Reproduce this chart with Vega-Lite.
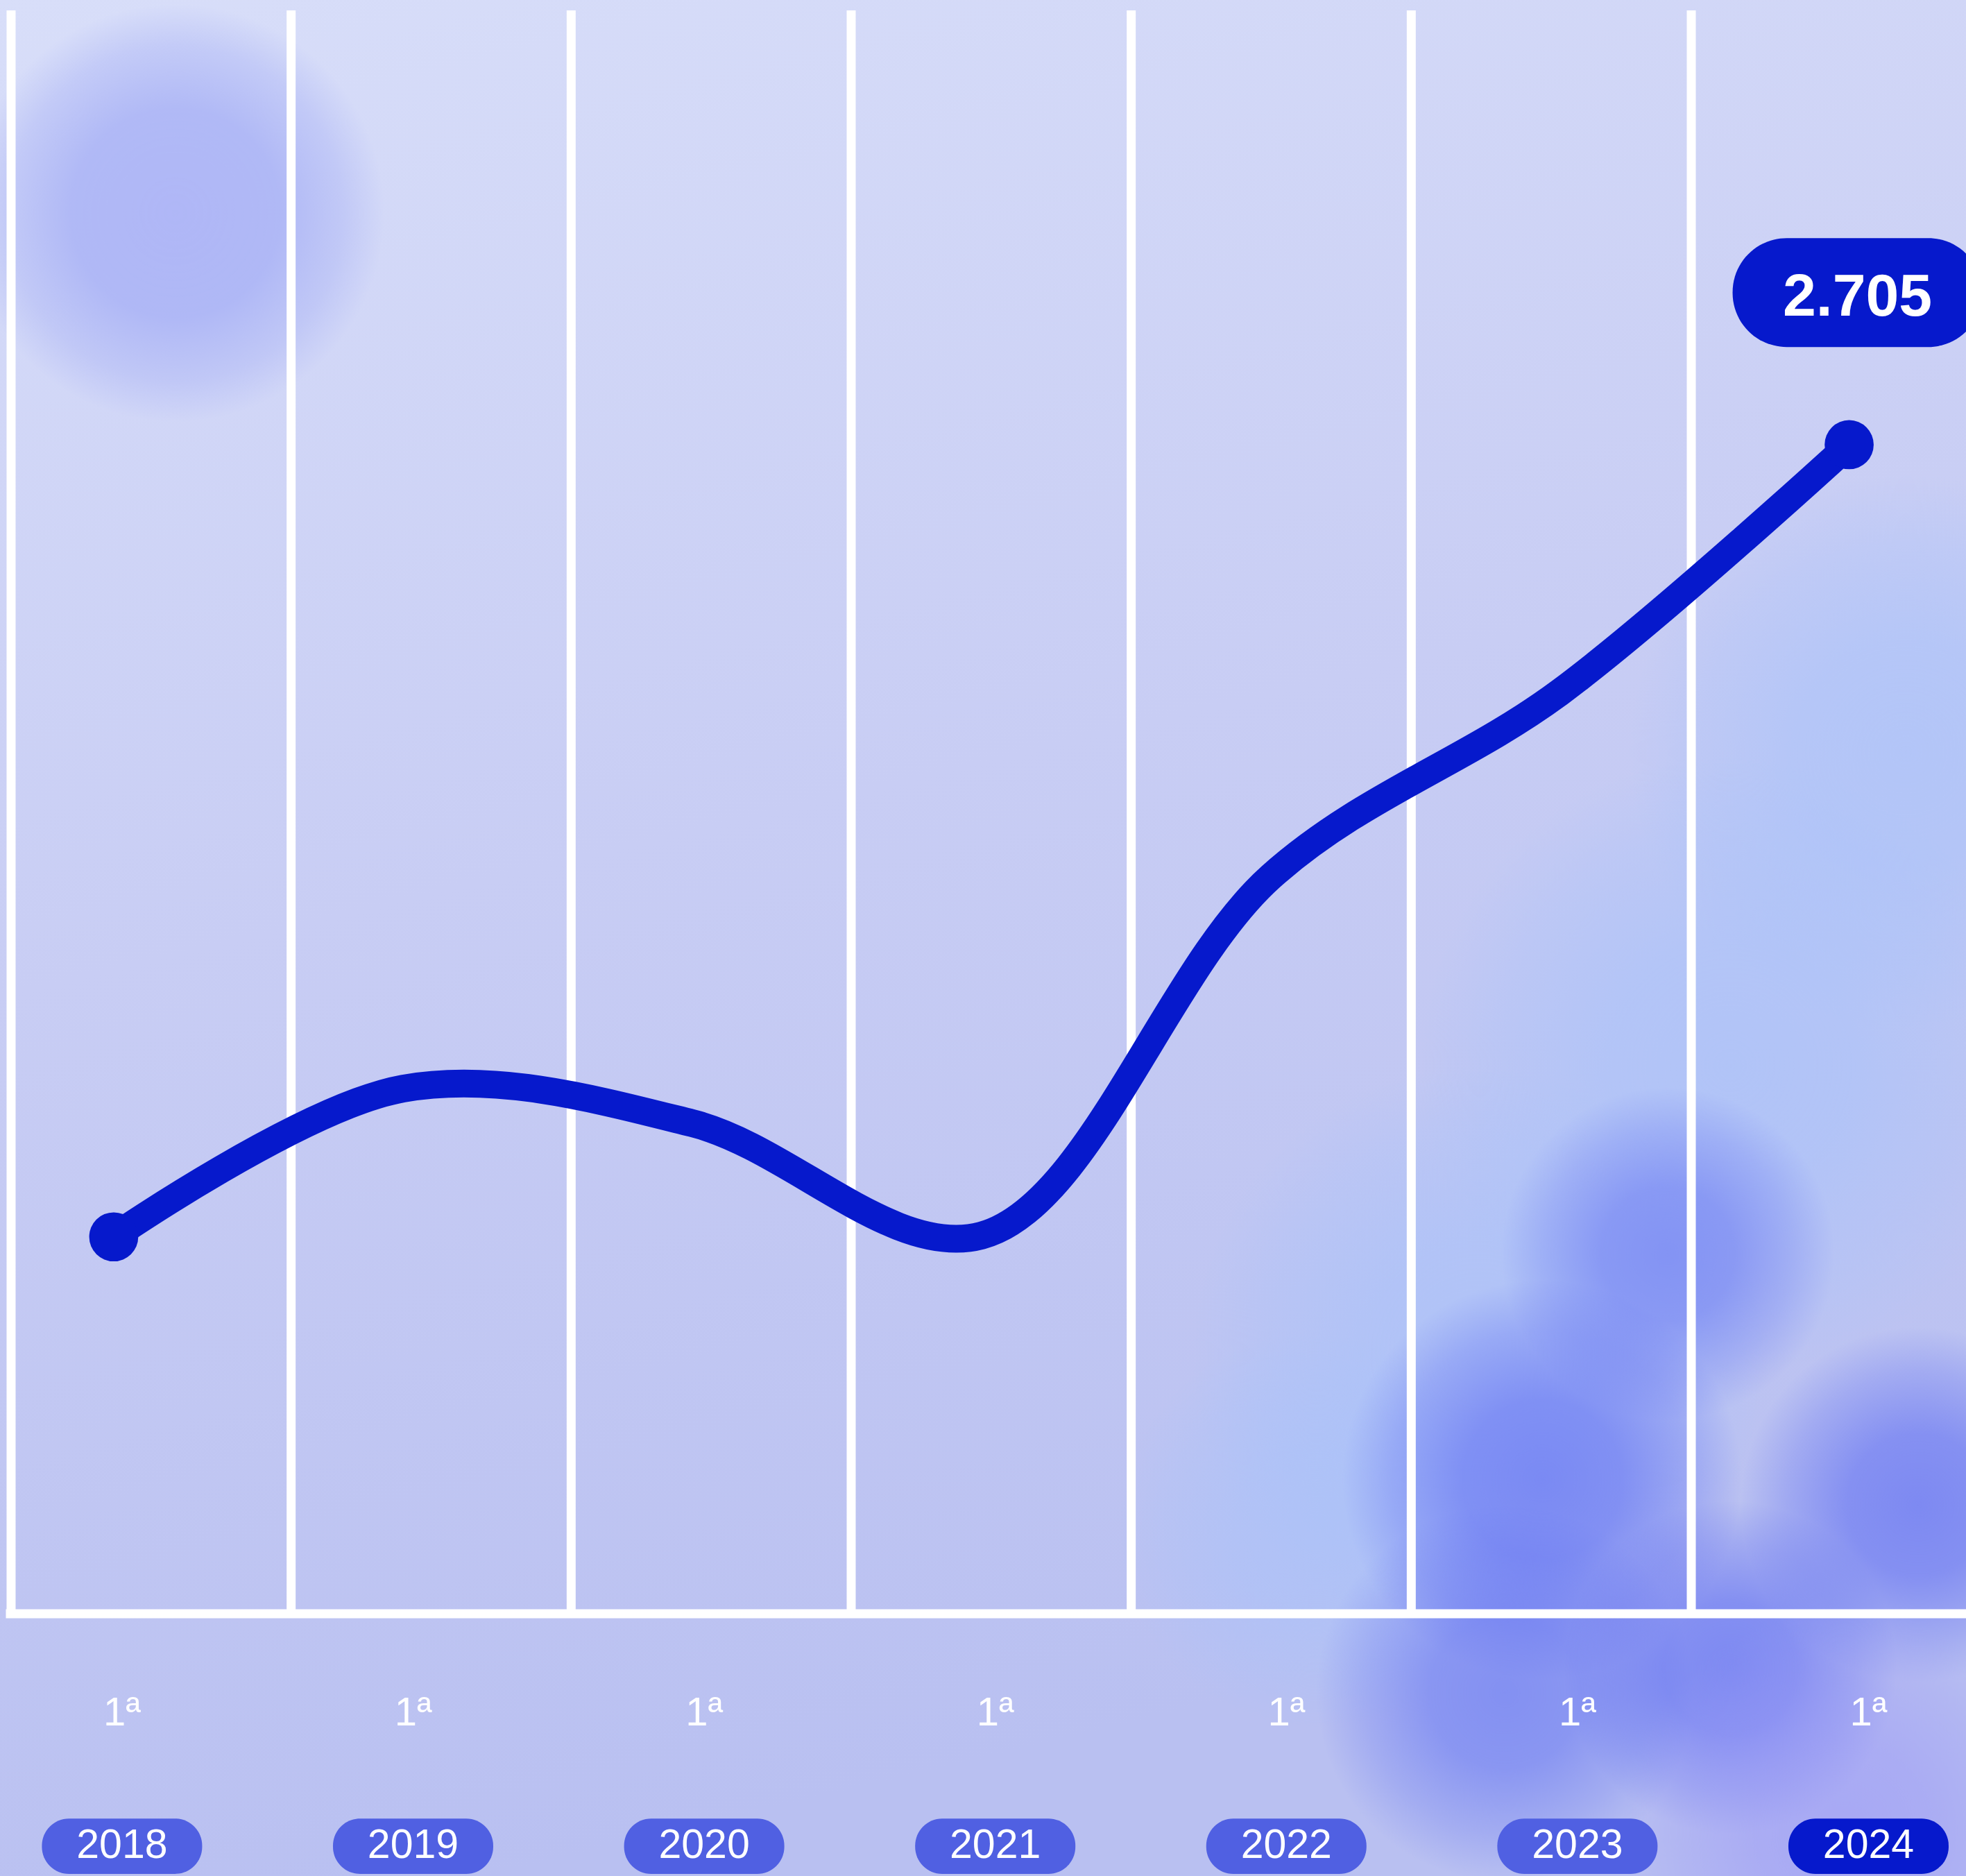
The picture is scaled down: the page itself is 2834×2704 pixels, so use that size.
{
  "$schema": "https://vega.github.io/schema/vega-lite/v6.json",
  "width": 2834,
  "height": 2704,
  "autosize": {"type": "fit", "contains": "padding"},
  "padding": 0,
  "background": "#c9cef5",
  "config": {
    "view": {
      "stroke": null,
      "fill": {"gradient": "linear", "x1": 0, "y1": 0, "x2": 0.25, "y2": 1,
        "stops": [{"offset": 0, "color": "#d8def9"}, {"offset": 0.5, "color": "#c8cdf4"}, {"offset": 1, "color": "#b9c0f1"}]}
    },
    "locale": {"number": {"decimal": ",", "thousands": ".", "grouping": [3], "currency": ["R$", ""]}}
  },
  "datasets": {
    "series": [
      {"year": 2018, "value": 872},
      {"year": 2019, "value": 1215},
      {"year": 2020, "value": 1135},
      {"year": 2021, "value": 875},
      {"year": 2022, "value": 1705},
      {"year": 2023, "value": 2132},
      {"year": 2024, "value": 2705}
    ],
    "grid": [{"g": 0}, {"g": 1}, {"g": 2}, {"g": 3}, {"g": 4}, {"g": 5}, {"g": 6}],
    "base": [{"g": 0}]
  },
  "layer": [
    {
      "data": {"name": "base"},
      "layer": [
        {
          "mark": {"type": "point", "shape": "circle", "filled": true, "clip": true, "strokeWidth": 0, "size": 363168,
            "fill": {"gradient": "radial", "x1": 0.5, "y1": 0.5, "r1": 0, "x2": 0.5, "y2": 0.5, "r2": 0.5,
              "stops": [{"offset": 0, "color": "rgba(160,168,246,1)"}, {"offset": 0.5, "color": "rgba(158,168,245,0.95)"}, {"offset": 0.8, "color": "rgba(160,170,245,0.5)"}, {"offset": 1, "color": "rgba(160,170,245,0)"}]}},
          "encoding": {
            "x": {"datum": 0.587, "type": "quantitative", "scale": {"domain": [-0.0396, 6.981], "nice": false, "zero": false}, "axis": null},
            "y": {"datum": 3241, "type": "quantitative", "scale": {"domain": [-607, 3734], "nice": false, "zero": false}, "axis": null}
          }
        },
        {
          "mark": {"type": "point", "shape": "circle", "filled": true, "clip": true, "strokeWidth": 0, "size": 641840,
            "fill": {"gradient": "radial", "x1": 0.5, "y1": 0.5, "r1": 0, "x2": 0.5, "y2": 0.5, "r2": 0.5,
              "stops": [{"offset": 0, "color": "rgba(168,194,250,0.9)"}, {"offset": 0.4, "color": "rgba(168,194,250,0.8)"}, {"offset": 0.75, "color": "rgba(168,194,250,0.4)"}, {"offset": 1, "color": "rgba(168,194,250,0)"}]}},
          "encoding": {"x": {"datum": 6.766, "type": "quantitative"}, "y": {"datum": 1994, "type": "quantitative"}}
        },
        {
          "mark": {"type": "point", "shape": "circle", "filled": true, "clip": true, "strokeWidth": 0, "size": 804380,
            "fill": {"gradient": "radial", "x1": 0.5, "y1": 0.5, "r1": 0, "x2": 0.5, "y2": 0.5, "r2": 0.5,
              "stops": [{"offset": 0, "color": "rgba(168,194,250,0.9)"}, {"offset": 0.4, "color": "rgba(168,194,250,0.8)"}, {"offset": 0.75, "color": "rgba(168,194,250,0.4)"}, {"offset": 1, "color": "rgba(168,194,250,0)"}]}},
          "encoding": {"x": {"datum": 6.139, "type": "quantitative"}, "y": {"datum": 1268, "type": "quantitative"}}
        },
        {
          "mark": {"type": "point", "shape": "circle", "filled": true, "clip": true, "strokeWidth": 0, "size": 693978,
            "fill": {"gradient": "radial", "x1": 0.5, "y1": 0.5, "r1": 0, "x2": 0.5, "y2": 0.5, "r2": 0.5,
              "stops": [{"offset": 0, "color": "rgba(168,194,250,0.9)"}, {"offset": 0.4, "color": "rgba(168,194,250,0.8)"}, {"offset": 0.75, "color": "rgba(168,194,250,0.4)"}, {"offset": 1, "color": "rgba(168,194,250,0)"}]}},
          "encoding": {"x": {"datum": 5.244, "type": "quantitative"}, "y": {"datum": 600, "type": "quantitative"}}
        },
        {
          "mark": {"type": "point", "shape": "circle", "filled": true, "clip": true, "strokeWidth": 0, "size": 331831,
            "fill": {"gradient": "radial", "x1": 0.5, "y1": 0.5, "r1": 0, "x2": 0.5, "y2": 0.5, "r2": 0.5,
              "stops": [{"offset": 0, "color": "rgba(168,194,250,0.85)"}, {"offset": 0.4, "color": "rgba(168,194,250,0.7)"}, {"offset": 0.75, "color": "rgba(168,194,250,0.35)"}, {"offset": 1, "color": "rgba(168,194,250,0)"}]}},
          "encoding": {"x": {"datum": 4.662, "type": "quantitative"}, "y": {"datum": 194, "type": "quantitative"}}
        },
        {
          "mark": {"type": "point", "shape": "circle", "filled": true, "clip": true, "strokeWidth": 0, "size": 230722,
            "fill": {"gradient": "radial", "x1": 0.5, "y1": 0.5, "r1": 0, "x2": 0.5, "y2": 0.5, "r2": 0.5,
              "stops": [{"offset": 0, "color": "rgba(100,115,242,0.85)"}, {"offset": 0.4, "color": "rgba(100,115,242,0.75)"}, {"offset": 0.75, "color": "rgba(100,115,242,0.35)"}, {"offset": 1, "color": "rgba(100,115,242,0)"}]}},
          "encoding": {"x": {"datum": 5.916, "type": "quantitative"}, "y": {"datum": 833, "type": "quantitative"}}
        },
        {
          "mark": {"type": "point", "shape": "circle", "filled": true, "clip": true, "strokeWidth": 0, "size": 331831,
            "fill": {"gradient": "radial", "x1": 0.5, "y1": 0.5, "r1": 0, "x2": 0.5, "y2": 0.5, "r2": 0.5,
              "stops": [{"offset": 0, "color": "rgba(90,105,242,0.9)"}, {"offset": 0.4, "color": "rgba(90,105,242,0.8)"}, {"offset": 0.75, "color": "rgba(90,105,242,0.4)"}, {"offset": 1, "color": "rgba(90,105,242,0)"}]}},
          "encoding": {"x": {"datum": 5.467, "type": "quantitative"}, "y": {"datum": 310, "type": "quantitative"}}
        },
        {
          "mark": {"type": "point", "shape": "circle", "filled": true, "clip": true, "strokeWidth": 0, "size": 296091,
            "fill": {"gradient": "radial", "x1": 0.5, "y1": 0.5, "r1": 0, "x2": 0.5, "y2": 0.5, "r2": 0.5,
              "stops": [{"offset": 0, "color": "rgba(95,112,242,0.85)"}, {"offset": 0.4, "color": "rgba(95,112,242,0.75)"}, {"offset": 0.75, "color": "rgba(95,112,242,0.35)"}, {"offset": 1, "color": "rgba(95,112,242,0)"}]}},
          "encoding": {"x": {"datum": 5.334, "type": "quantitative"}, "y": {"datum": -183, "type": "quantitative"}}
        },
        {
          "mark": {"type": "point", "shape": "circle", "filled": true, "clip": true, "strokeWidth": 0, "size": 230722,
            "fill": {"gradient": "radial", "x1": 0.5, "y1": 0.5, "r1": 0, "x2": 0.5, "y2": 0.5, "r2": 0.5,
              "stops": [{"offset": 0, "color": "rgba(85,100,242,0.85)"}, {"offset": 0.4, "color": "rgba(85,100,242,0.75)"}, {"offset": 0.75, "color": "rgba(85,100,242,0.35)"}, {"offset": 1, "color": "rgba(85,100,242,0)"}]}},
          "encoding": {"x": {"datum": 6.139, "type": "quantitative"}, "y": {"datum": -125, "type": "quantitative"}}
        },
        {
          "mark": {"type": "point", "shape": "circle", "filled": true, "clip": true, "strokeWidth": 0, "size": 262389,
            "fill": {"gradient": "radial", "x1": 0.5, "y1": 0.5, "r1": 0, "x2": 0.5, "y2": 0.5, "r2": 0.5,
              "stops": [{"offset": 0, "color": "rgba(85,100,242,0.85)"}, {"offset": 0.4, "color": "rgba(85,100,242,0.75)"}, {"offset": 0.75, "color": "rgba(85,100,242,0.35)"}, {"offset": 1, "color": "rgba(85,100,242,0)"}]}},
          "encoding": {"x": {"datum": 6.81, "type": "quantitative"}, "y": {"datum": 252, "type": "quantitative"}}
        },
        {
          "mark": {"type": "point", "shape": "circle", "filled": true, "clip": true, "strokeWidth": 0, "size": 409420,
            "fill": {"gradient": "radial", "x1": 0.5, "y1": 0.5, "r1": 0, "x2": 0.5, "y2": 0.5, "r2": 0.5,
              "stops": [{"offset": 0, "color": "rgba(155,152,246,0.85)"}, {"offset": 0.4, "color": "rgba(155,152,246,0.7)"}, {"offset": 0.75, "color": "rgba(155,152,246,0.35)"}, {"offset": 1, "color": "rgba(155,152,246,0)"}]}},
          "encoding": {"x": {"datum": 6.542, "type": "quantitative"}, "y": {"datum": -502, "type": "quantitative"}}
        },
        {
          "data": {"name": "grid"},
          "mark": {"type": "rule", "color": "#ffffff", "strokeWidth": 13},
          "encoding": {
            "x": {"field": "g", "type": "quantitative"},
            "y": {"datum": 3710, "type": "quantitative"},
            "y2": {"datum": 0}
          }
        },
        {
          "mark": {"type": "rule", "color": "#ffffff", "strokeWidth": 13, "clip": true},
          "encoding": {
            "x": {"datum": -0.0186, "type": "quantitative"},
            "x2": {"datum": 6.981},
            "y": {"datum": 0, "type": "quantitative"}
          }
        }
      ]
    },
    {
      "data": {"name": "series"},
      "layer": [
        {
          "mark": {"type": "line", "interpolate": "catmull-rom", "strokeWidth": 40, "color": "#0619cc", "strokeCap": "round", "strokeJoin": "round"},
          "encoding": {
            "x": {"field": "year", "type": "quantitative", "scale": {"domain": [2017.6188, 2024.392], "nice": false, "zero": false}, "axis": null},
            "y": {"field": "value", "type": "quantitative"}
          }
        },
        {
          "transform": [{"filter": "datum.year == 2018 || datum.year == 2024"}],
          "mark": {"type": "circle", "size": 5000, "opacity": 1, "color": "#0619cc"},
          "encoding": {
            "x": {"field": "year", "type": "quantitative"},
            "y": {"field": "value", "type": "quantitative"}
          }
        },
        {
          "transform": [{"filter": "datum.year == 2024"}],
          "mark": {"type": "bar", "width": 360, "cornerRadius": 78, "color": "#0619cc", "xOffset": 12, "clip": true},
          "encoding": {
            "x": {"field": "year", "type": "quantitative"},
            "y": {"datum": 3183, "type": "quantitative"},
            "y2": {"datum": 2931}
          }
        },
        {
          "transform": [{"filter": "datum.year == 2024"}],
          "mark": {"type": "text", "font": "Liberation Sans", "fontWeight": "bold", "fontSize": 86, "color": "#ffffff", "align": "center", "baseline": "alphabetic", "dx": 12},
          "encoding": {
            "x": {"field": "year", "type": "quantitative"},
            "y": {"datum": 3003, "type": "quantitative"},
            "text": {"field": "value", "type": "quantitative", "format": ",.0f"}
          }
        }
      ]
    },
    {
      "data": {"name": "series"},
      "layer": [
        {
          "mark": {"type": "text", "font": "Liberation Sans", "fontSize": 58, "color": "#ffffff", "align": "center", "baseline": "alphabetic"},
          "encoding": {
            "x": {"field": "year", "type": "quantitative", "scale": {"domain": [2017.5927, 2024.323], "nice": false, "zero": false}, "axis": null},
            "y": {"datum": -258, "type": "quantitative"},
            "text": {"value": "1ª"}
          }
        },
        {
          "mark": {"type": "bar", "width": 231, "cornerRadius": 39},
          "encoding": {
            "x": {"field": "year", "type": "quantitative"},
            "y": {"datum": -474, "type": "quantitative"},
            "y2": {"datum": -602},
            "color": {"condition": {"test": "datum.year == 2024", "value": "#0619cc"}, "value": "#5060e2"}
          }
        },
        {
          "mark": {"type": "text", "font": "Liberation Sans", "fontSize": 59, "color": "#ffffff", "align": "center", "baseline": "alphabetic"},
          "encoding": {
            "x": {"field": "year", "type": "quantitative"},
            "y": {"datum": -565, "type": "quantitative"},
            "text": {"field": "year", "type": "quantitative", "format": "d"}
          }
        }
      ]
    }
  ],
  "resolve": {"scale": {"x": "independent"}}
}
